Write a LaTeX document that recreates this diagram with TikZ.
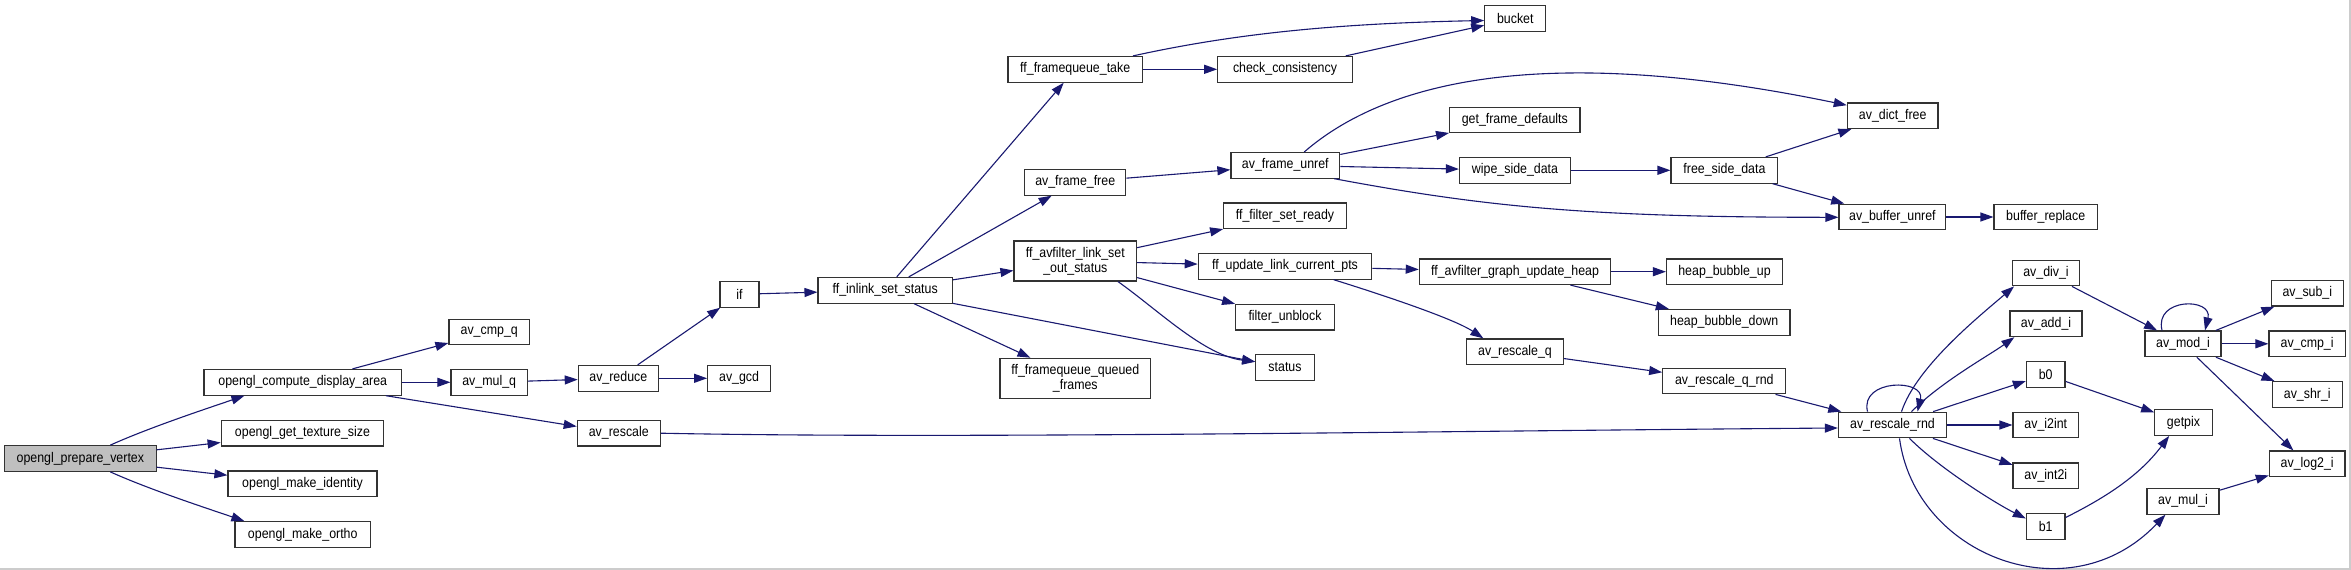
\documentclass[tikz,border=0pt]{standalone}
\usepackage{fontspec}
\setmainfont{Liberation Sans}[FakeStretch=0.885]
\usetikzlibrary{arrows.meta,calc}
\definecolor{edgeblue}{HTML}{191970}
\definecolor{boxline}{HTML}{333333}
\definecolor{rootfill}{HTML}{BFBFBF}
\definecolor{frameline}{HTML}{CCCCCC}
\tikzset{
  fn/.style={draw=boxline, line width=1.2pt, fill=white, inner sep=0pt,
    minimum height=25.6pt, font=\fontsize{14}{15.3}\selectfont, align=center},
  rootfn/.style={fn, fill=rootfill},
  call/.style={draw=edgeblue, line width=1.1pt, -{Triangle[length=13pt,width=9pt]}},
  frame/.style={draw=frameline, line width=2pt}
}
\begin{document}
\begin{tikzpicture}[x=1pt,y=-1pt]
\useasboundingbox (0,0) rectangle (2351,570);
\fill[white] (0,0) rectangle (2351,570);
\draw[frame] (0,569) -- (2350,569) -- (2350,0);

% nodes
\node[rootfn, minimum width=151.5pt] (root) at (80.35,458.5) {opengl\_prepare\_vertex};
\node[fn, minimum width=197.5pt] (cda) at (302.75,382.3) {opengl\_compute\_display\_area};
\node[fn, minimum width=162.6pt] (gts) at (302.5,433.2) {opengl\_get\_texture\_size};
\node[fn, minimum width=149pt] (mid) at (302.5,483.8) {opengl\_make\_identity};
\node[fn, minimum width=135.5pt] (mor) at (302.75,534.5) {opengl\_make\_ortho};
\node[fn, minimum width=80.4pt] (cmpq) at (489.2,332) {av\_cmp\_q};
\node[fn, minimum width=76.4pt] (mulq) at (489.2,382.3) {av\_mul\_q};
\node[fn, minimum width=80pt] (reduce) at (618.3,378.3) {av\_reduce};
\node[fn, minimum width=83pt] (rescale) at (618.8,433.2) {av\_rescale};
\node[fn, minimum width=62.8pt] (gcd) at (739.1,378.3) {av\_gcd};
\node[fn, minimum width=39pt] (iff) at (739.5,294.3) {if};
\node[fn, minimum width=134.3pt] (inlink) at (885.2,290.3) {ff\_inlink\_set\_status};
\node[fn, minimum width=134.4pt] (fqt) at (1075.2,69.3) {ff\_framequeue\_take};
\node[fn, minimum width=134.4pt] (chk) at (1285,69.3) {check\_consistency};
\node[fn, minimum width=61pt] (bucket) at (1515.3,18.5) {bucket};
\node[fn, minimum width=101.2pt] (ffree) at (1075.2,182.3) {av\_frame\_free};
\node[fn, minimum width=108.7pt] (unref) at (1285.3,165.3) {av\_frame\_unref};
\node[fn, minimum width=130.4pt] (gfd) at (1514.8,120) {get\_frame\_defaults};
\node[fn, minimum width=111.1pt] (wipe) at (1515,170.3) {wipe\_side\_data};
\node[fn, minimum width=106.7pt] (fsd) at (1724.4,170.3) {free\_side\_data};
\node[fn, minimum width=90.7pt] (dict) at (1892.7,115.7) {av\_dict\_free};
\node[fn, minimum width=106.7pt] (bunref) at (1892.4,217) {av\_buffer\_unref};
\node[fn, minimum width=103.3pt] (brep) at (2045.7,217) {buffer\_replace};
\node[fn, minimum width=122.6pt] (fsr) at (1285,215.8) {ff\_filter\_set\_ready};
\node[fn, minimum width=122.5pt, minimum height=40pt] (lsos) at (1075.3,261) {ff\_avfilter\_link\_set\\\_out\_status};
\node[fn, minimum width=173.4pt] (ulcp) at (1285,266.3) {ff\_update\_link\_current\_pts};
\node[fn, minimum width=191.3pt] (guh) at (1515,271.7) {ff\_avfilter\_graph\_update\_heap};
\node[fn, minimum width=116pt] (hbu) at (1724.5,271.7) {heap\_bubble\_up};
\node[fn, minimum width=131.6pt] (hbd) at (1724.2,322.3) {heap\_bubble\_down};
\node[fn, minimum width=98.7pt] (funb) at (1285,317.2) {filter\_unblock};
\node[fn, minimum width=58.5pt] (status) at (1285,367.5) {status};
\node[fn, minimum width=150.5pt, minimum height=40.4pt] (fqqf) at (1075.3,378.5) {ff\_framequeue\_queued\\\_frames};
\node[fn, minimum width=97pt] (rq) at (1515,351.7) {av\_rescale\_q};
\node[fn, minimum width=123.1pt] (rqr) at (1724.3,381) {av\_rescale\_q\_rnd};
\node[fn, minimum width=108.1pt] (rnd) at (1892.5,425) {av\_rescale\_rnd};
\node[fn, minimum width=66.7pt] (divi) at (2046,273) {av\_div\_i};
\node[fn, minimum width=72.1pt] (addi) at (2046,323.8) {av\_add\_i};
\node[fn, minimum width=38.6pt] (bz) at (2045.7,374.5) {b0};
\node[fn, minimum width=65.5pt] (itoi) at (2045.8,425) {av\_i2int};
\node[fn, minimum width=65.5pt] (intti) at (2045.8,475.8) {av\_int2i};
\node[fn, minimum width=38.6pt] (bo) at (2045.7,526.5) {b1};
\node[fn, minimum width=57.5pt] (getpix) at (2183.5,422.5) {getpix};
\node[fn, minimum width=72pt] (muli) at (2183,501.3) {av\_mul\_i};
\node[fn, minimum width=76pt] (modi) at (2183,343.8) {av\_mod\_i};
\node[fn, minimum width=72pt] (subi) at (2307.3,293.2) {av\_sub\_i};
\node[fn, minimum width=76.2pt] (cmpi) at (2307.1,343.8) {av\_cmp\_i};
\node[fn, minimum width=69.8pt] (shri) at (2307.3,394.5) {av\_shr\_i};
\node[fn, minimum width=75.7pt] (logi) at (2307.2,463.8) {av\_log2\_i};

% edges
\draw[call] ($(root.north)+(30,0)$) .. controls +(40,-18) and +(-35,12) .. ($(cda.south west)+(41,0)$);
\draw[call] (root) -- (gts);
\draw[call] (root) -- (mid);
\draw[call] ($(root.south)+(30,0)$) .. controls +(40,18) and +(-35,-12) .. ($(mor.north west)+(10,0)$);
\draw[call] (cda) -- (cmpq);
\draw[call] (cda) -- (mulq);
\draw[call] (cda) -- (rescale);
\draw[call] (mulq) -- (reduce);
\draw[call] (reduce) -- (iff);
\draw[call] (reduce) -- (gcd);
\draw[call] (rescale.east) .. controls +(300,6) and +(-400,3) .. ($(rnd.west)+(0,3)$);
\draw[call] (iff) -- (inlink);
\draw[call] (inlink) -- (fqt);
\draw[call] (inlink) -- (ffree);
\draw[call] (inlink) -- (lsos);
\draw[call] (inlink) -- (fqqf);
\draw[call] (inlink) -- (status);
\draw[call] (fqt) -- (chk);
\draw[call] ($(fqt.north east)+(-10,0)$) .. controls +(100,-22) and +(-150,3) .. ($(bucket.west)+(0,2)$);
\draw[call] (chk) -- (bucket);
\draw[call] (ffree) -- (unref);
\draw[call] ($(unref.north)+(19,0)$) .. controls +(95.5,-82.7) and +(-270,-56) .. ($(dict.west)+(0,-10.5)$);
\draw[call] (unref) -- (gfd);
\draw[call] (unref) -- (wipe);
\draw[call] ($(unref.south east)+(-6,0)$) .. controls +(150,28) and +(-250,0) .. ($(bunref.west)+(0,0.3)$);
\draw[call] (wipe) -- (fsd);
\draw[call] (fsd) -- (dict);
\draw[call] (fsd) -- (bunref);
\draw[call] (bunref) -- (brep);
\draw[call] (lsos) -- (fsr);
\draw[call] (lsos) -- (ulcp);
\draw[call] (lsos) -- (funb);
\draw[call] ($(lsos.south)+(42.7,0)$) .. controls +(40,28.3) and +(-51,-6.2) .. ($(status.west)+(0,-5.8)$);
\draw[call] (ulcp) -- (guh);
\draw[call] ($(ulcp.south)+(48.7,0)$) .. controls +(45,14) and +(-30,-20) .. ($(rq.north west)+(17.4,0)$);
\draw[call] (guh) -- (hbu);
\draw[call] (guh) -- (hbd);
\draw[call] (rq) -- (rqr);
\draw[call] (rqr) -- (rnd);
\draw[call] ($(rnd.north)+(-25,0)$) .. controls +(-8,-33) and +(8,-33) .. ($(rnd.north)+(25,0)$);
\draw[call] ($(rnd.north)+(9,0)$) .. controls +(15,-45) and +(-35,30) .. ($(divi.south west)+(2,0)$);
\draw[call] ($(rnd.north)+(19,0)$) .. controls +(30,-30) and +(-25,18) .. ($(addi.south west)+(5,0)$);
\draw[call] (rnd) -- (bz);
\draw[call] (rnd) -- (itoi);
\draw[call] (rnd) -- (intti);
\draw[call] ($(rnd.south)+(17,0)$) .. controls +(30,30) and +(-30,-15) .. ($(bo.west)+(0,-8)$);
\draw[call] ($(rnd.south)+(7,0)$) .. controls +(15.5,117.3) and +(-96,101) .. ($(muli.south west)+(19,0)$);
\draw[call] (divi) -- (modi);
\draw[call] (bz) -- (getpix);
\draw[call] ($(bo.east)+(0,-9)$) .. controls +(40,-20) and +(-30,40) .. ($(getpix.south west)+(15,0)$);
\draw[call] ($(modi.north)+(-21,0)$) .. controls +(-8,-33) and +(8,-33) .. ($(modi.north)+(22,0)$);
\draw[call] (modi) -- (subi);
\draw[call] (modi) -- (cmpi);
\draw[call] (modi) -- (shri);
\draw[call] (modi) -- (logi);
\draw[call] (muli) -- (logi);
\end{tikzpicture}
\end{document}
